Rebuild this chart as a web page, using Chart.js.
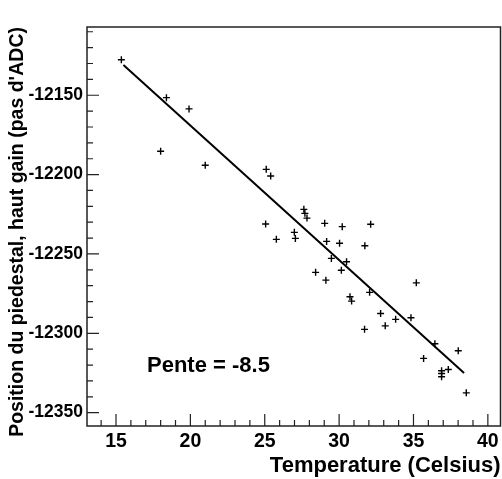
<!DOCTYPE html>
<html>
<head>
<meta charset="utf-8">
<script src="https://cdn.jsdelivr.net/npm/chart.js@4.4.1/dist/chart.umd.min.js"></script>
<style>
  html, body { margin: 0; padding: 0; background: #fff; }
  #wrap { width: 502px; height: 479px; }
</style>
</head>
<body>
<div id="wrap"><canvas id="graphe" width="502" height="479"></canvas></div>
<script>
const temperature = [15.36, 18.39, 19.91, 18.0, 21.0, 25.1, 25.4, 25.06, 26.99, 27.63,
  27.7, 27.84, 29.03, 30.21, 32.12, 27.06, 25.78, 29.16, 30.03, 31.73,
  29.48, 30.5, 30.15, 28.42, 29.11, 30.73, 30.84, 32.05, 32.79, 33.1,
  31.71, 35.19, 33.8, 34.83, 36.44, 38.01, 35.68, 37.34, 36.89, 36.89,
  36.89, 38.55];
const piedestal = [-12127.6, -12151.5, -12158.6, -12185.3, -12194.1, -12196.7, -12200.9, -12231.1, -12236.4, -12221.9,
  -12224.4, -12227.4, -12230.7, -12232.8, -12231.3, -12240.2, -12240.8, -12242.1, -12243.3, -12244.8,
  -12252.8, -12254.9, -12260.3, -12261.6, -12266.5, -12277.0, -12279.7, -12274.2, -12287.5, -12295.3,
  -12297.5, -12268.2, -12291.2, -12290.2, -12306.6, -12311.0, -12315.8, -12322.8, -12323.6, -12325.3,
  -12327.4, -12337.5];

// droite d'ajustement (extremites)
const fitX = [15.5, 38.4];
const fitY = [-12131, -12325];

const xTicks = [15, 20, 25, 30, 35, 40];
const yTicks = [-12350, -12300, -12250, -12200, -12150];

const police = '"Liberation Sans", Arial, Helvetica, sans-serif';

const points = temperature.map((t, i) => ({ x: t, y: piedestal[i] }));
const droite = fitX.map((t, i) => ({ x: t, y: fitY[i] }));

const sansMarge = s => { s.paddingLeft = 0; s.paddingRight = 0; s.paddingTop = 0; s.paddingBottom = 0; };

// cadre + graduations vers l'interieur (style ROOT)
const cadre = {
  id: 'cadre',
  afterDraw(chart) {
    const ctx = chart.ctx;
    const a = chart.chartArea;
    const sx = chart.scales.x, sy = chart.scales.y;
    ctx.save();
    ctx.strokeStyle = '#222';
    ctx.lineWidth = 1.5;
    ctx.strokeRect(a.left, a.top, a.right - a.left, a.bottom - a.top);

    ctx.lineWidth = 1.2;
    ctx.beginPath();
    for (let v = Math.ceil(sx.min); v <= sx.max; v++) {
      const px = sx.getPixelForValue(v);
      const len = (v % 5 === 0) ? 12 : 6;
      ctx.moveTo(px, a.bottom);
      ctx.lineTo(px, a.bottom - len);
    }
    for (let v = Math.ceil(sy.min / 10) * 10; v <= sy.max; v += 10) {
      const py = sy.getPixelForValue(v);
      const len = (v % 50 === 0) ? 12 : 6;
      ctx.moveTo(a.left, py);
      ctx.lineTo(a.left + len, py);
    }
    ctx.stroke();

    ctx.fillStyle = '#000';
    ctx.font = 'bold 22px ' + police;
    ctx.textBaseline = 'alphabetic';
    ctx.fillText('Pente = -8.5', 147, 372);
    ctx.restore();
  }
};

new Chart(document.getElementById('graphe'), {
  type: 'scatter',
  data: {
    datasets: [
      {
        label: 'mesures',
        data: points,
        pointStyle: 'cross',
        pointRadius: 3.5,
        pointBorderWidth: 1.4,
        borderColor: '#000',
        backgroundColor: '#000'
      },
      {
        type: 'line',
        label: 'ajustement',
        data: droite,
        borderColor: '#000',
        borderWidth: 2,
        pointRadius: 0,
        fill: false
      }
    ]
  },
  options: {
    responsive: false,
    animation: false,
    devicePixelRatio: 1,
    layout: { autoPadding: false, padding: { top: 27, right: 1.5, left: 0, bottom: 0 } },
    plugins: {
      legend: { display: false },
      tooltip: { enabled: false }
    },
    scales: {
      x: {
        type: 'linear',
        position: 'bottom',
        min: 13.05,
        max: 40.85,
        grid: { display: false, drawTicks: false },
        border: { display: false },
        afterBuildTicks: s => { s.ticks = xTicks.map(v => ({ value: v })); },
        afterFit: s => { s.height = 53; sansMarge(s); },
        ticks: {
          color: '#000',
          padding: 4,
          maxRotation: 0,
          font: { family: police, size: 19.5, weight: 'bold' },
          callback: v => String(v)
        },
        title: {
          display: true,
          text: 'Temperature (Celsius)',
          align: 'end',
          color: '#000',
          padding: { top: 0, bottom: 0 },
          font: { family: police, size: 22, weight: 'bold' }
        }
      },
      y: {
        type: 'linear',
        min: -12358.4,
        max: -12107,
        grid: { display: false, drawTicks: false },
        border: { display: false },
        afterBuildTicks: s => { s.ticks = yTicks.map(v => ({ value: v })); },
        afterFit: s => { s.width = 87; sansMarge(s); },
        ticks: {
          color: '#000',
          padding: 4,
          font: { family: police, size: 17.5, weight: 'bold' },
          callback: v => String(v)
        },
        title: {
          display: true,
          text: "Position du piedestal, haut gain (pas d'ADC)",
          align: 'end',
          color: '#000',
          padding: { top: 6, bottom: 0 },
          font: { family: police, size: 19.5, weight: 'bold' }
        }
      }
    }
  },
  plugins: [cadre]
});
</script>
</body>
</html>
